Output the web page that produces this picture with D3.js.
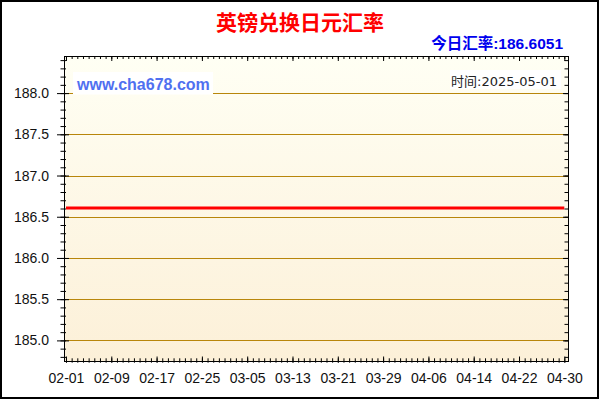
<!DOCTYPE html>
<html>
<head>
<meta charset="utf-8">
<script src="https://cdn.jsdelivr.net/npm/d3@7/dist/d3.min.js"></script>
<style>
  html, body { margin: 0; padding: 0; background: #fff; }
  svg { display: block; }
  text { font-family: "Liberation Sans", Arial, "Noto Sans CJK SC", sans-serif; }
</style>
</head>
<body>
<div id="chart"></div>
<script>
/* ---- data ---- */
const chartTitle = '英镑兑换日元汇率';
const siteName = 'www.cha678.com';
const updateDate = '2025-05-01';
const rateDates = ['2025-02-01', '2025-04-30'];
const rateValues = [186.6051, 186.6051];
const yTickValues = [185.0, 185.5, 186.0, 186.5, 187.0, 187.5, 188.0];
const xTickDates = ['2025-02-01', '2025-02-09', '2025-02-17', '2025-02-25', '2025-03-05', '2025-03-13',
                    '2025-03-21', '2025-03-29', '2025-04-06', '2025-04-14', '2025-04-22', '2025-04-30'];

/* ---- layout ---- */
const W = 600, H = 400;
const L = 64, R = 568, T = 56, B = 361;
const parse = d3.utcParse('%Y-%m-%d');

const x = d3.scaleUtc()
  .domain([Date.UTC(2025, 0, 31, 15, 36), Date.UTC(2025, 3, 30, 15, 36)])
  .range([L, R]);
const y = d3.scaleLinear().domain([184.75, 188.45]).range([B, T]);

const svg = d3.select('#chart').append('svg').attr('width', W).attr('height', H);

// outer frame
svg.append('rect')
  .attr('x', 1).attr('y', 1).attr('width', W - 3).attr('height', H - 3)
  .attr('fill', '#fff').attr('stroke', '#000').attr('stroke-width', 2);

// plot background gradient
const grad = svg.append('defs').append('linearGradient')
  .attr('id', 'bg').attr('x1', 0).attr('y1', 0).attr('x2', 0).attr('y2', 1);
grad.append('stop').attr('offset', '0%').attr('stop-color', '#fffff4');
grad.append('stop').attr('offset', '100%').attr('stop-color', '#fcf0d8');
svg.append('rect')
  .attr('x', L).attr('y', T).attr('width', R - L).attr('height', B - T)
  .attr('fill', 'url(#bg)');

// grid lines
svg.append('g').selectAll('line')
  .data(yTickValues)
  .join('line')
  .attr('x1', L).attr('x2', R)
  .attr('y1', d => Math.round(y(d)) + 0.5).attr('y2', d => Math.round(y(d)) + 0.5)
  .attr('stroke', '#b8860b').attr('stroke-width', 1);

// labels with white boxes
svg.append('rect').attr('x', 73).attr('y', 72).attr('width', 140).attr('height', 22.5).attr('fill', '#fff');
svg.append('text')
  .attr('x', 77).attr('y', 89.5)
  .attr('font-size', 16).attr('font-weight', 'bold').attr('fill', '#5070f0')
  .text(siteName);

svg.append('rect').attr('x', 450).attr('y', 70).attr('width', 111).attr('height', 19).attr('fill', '#fff');
svg.append('text')
  .attr('x', 557).attr('y', 86).attr('text-anchor', 'end')
  .attr('font-size', 13).attr('fill', '#222')
  .style('font-family', '"DejaVu Sans", "Noto Sans CJK SC", sans-serif')
  .text('时间:' + updateDate);

// rate line
const line = d3.line().x(d => x(d.date)).y(d => y(d.value));
const series = rateDates.map((d, i) => ({ date: parse(d), value: rateValues[i] }));
svg.append('path')
  .datum(series)
  .attr('fill', 'none').attr('stroke', '#ff0000').attr('stroke-width', 3)
  .attr('d', line);

/* ---- axes ---- */
const minorDays = d3.utcDay.range(x.domain()[0], x.domain()[1]);
const majorDays = xTickDates.map(parse);
const minorY = y.ticks(40);

function axisGroup(axis, tx, ty) {
  const g = svg.append('g').attr('transform', `translate(${tx},${ty})`).call(axis);
  g.select('.domain').remove();
  g.selectAll('.tick line').attr('stroke', '#000');
  return g;
}

// left
axisGroup(d3.axisLeft(y).tickValues(minorY).tickSize(3.5).tickFormat(''), L, 0)
  .selectAll('.tick line').attr('x1', 2);
const gl = axisGroup(d3.axisLeft(y).tickValues(yTickValues).tickSize(7).tickPadding(8)
  .tickFormat(d3.format('.1f')), L, 0);
gl.selectAll('.tick line').attr('x1', 5);
gl.selectAll('text').attr('font-size', 14).attr('fill', '#111').style('font-family', null);

// right
axisGroup(d3.axisRight(y).tickValues(minorY).tickSize(-3.5).tickFormat(''), R, 0);
axisGroup(d3.axisRight(y).tickValues(yTickValues).tickSize(-5).tickFormat(''), R, 0);

// bottom
axisGroup(d3.axisBottom(x).tickValues(minorDays).tickSize(1.7).tickFormat(''), 0, B)
  .selectAll('.tick line').attr('y1', -2.7);
const gb = axisGroup(d3.axisBottom(x).tickValues(majorDays).tickSize(1.5).tickPadding(11)
  .tickFormat(d3.utcFormat('%m-%d')), 0, B);
gb.selectAll('.tick line').attr('y1', -4.5);
gb.selectAll('text').attr('font-size', 14).attr('fill', '#111');

// top
axisGroup(d3.axisTop(x).tickValues(minorDays).tickSize(-3).tickFormat(''), 0, T);
axisGroup(d3.axisTop(x).tickValues(majorDays).tickSize(-5).tickFormat(''), 0, T);

// plot frame
svg.append('rect')
  .attr('x', L + 0.5).attr('y', T + 0.5).attr('width', R - L).attr('height', B - T)
  .attr('fill', 'none').attr('stroke', '#000').attr('stroke-width', 1);

/* ---- titles ---- */
svg.append('text')
  .attr('x', 300).attr('y', 30).attr('text-anchor', 'middle')
  .attr('font-size', 21).attr('font-weight', 'bold').attr('fill', '#ff0000')
  .style('font-family', '"Noto Sans CJK SC", sans-serif')
  .text(chartTitle);

svg.append('text')
  .attr('x', 563).attr('y', 49).attr('text-anchor', 'end')
  .attr('font-size', 15.5).attr('font-weight', 'bold').attr('fill', '#0000ee')
  .text('今日汇率:' + rateValues[rateValues.length - 1].toFixed(4));
</script>
</body>
</html>
